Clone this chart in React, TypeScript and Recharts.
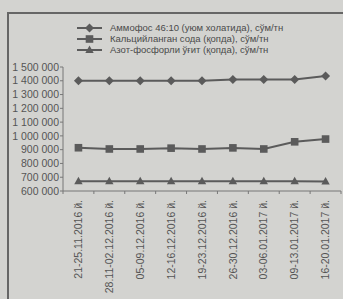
import React from 'react';
import { LineChart, Line, XAxis, YAxis } from 'recharts';

// weekly price monitoring, сўм/тн
const weeks = [
  '21-25.11.2016 й.',
  '28.11-02.12.2016 й.',
  '05-09.12.2016 й.',
  '12-16.12.2016 й.',
  '19-23.12.2016 й.',
  '26-30.12.2016 й.',
  '03-06.01.2017 й.',
  '09-13.01.2017 й.',
  '16-20.01.2017 й.',
];
const ammofos = [1400000, 1400000, 1400000, 1400000, 1400000, 1410000, 1410000, 1410000, 1435000];
const soda = [914000, 905000, 905000, 911000, 905000, 913000, 905000, 957000, 977000];
const azot = [670000, 670000, 670000, 670000, 670000, 670000, 670000, 670000, 669000];
const yTicks = [600000, 700000, 800000, 900000, 1000000, 1100000, 1200000, 1300000, 1400000, 1500000];

const names = [
  'Аммофос 46:10 (уюм холатида), сўм/тн',
  'Кальцийланган сода (қопда), сўм/тн',
  'Азот-фосфорли ўғит (қопда), сўм/тн',
];

const data = weeks.map((w, i) => ({ week: w, a: ammofos[i], s: soda[i], z: azot[i] }));

const INK = '#5b5b5b';
const BG = '#d3d3d0';
const FONT = 'Liberation Sans, Arial, sans-serif';

const fmt = (v: number) => String(v).replace(/\B(?=(\d{3})+(?!\d))/g, ' ');

const marker = (kind: string, cx: number, cy: number, key?: any) => {
  if (kind === 'diamond')
    return <path key={key} d={`M${cx},${cy - 4.5}L${cx + 4.5},${cy}L${cx},${cy + 4.5}L${cx - 4.5},${cy}Z`} fill={INK} />;
  if (kind === 'square')
    return <rect key={key} x={cx - 3.8} y={cy - 3.8} width={7.6} height={7.6} fill={INK} />;
  return <path key={key} d={`M${cx},${cy - 4.5}L${cx + 4.2},${cy + 3}L${cx - 4.2},${cy + 3}Z`} fill={INK} />;
};

const kinds = ['diamond', 'square', 'triangle'];

const LegendBox = () => (
  <div style={{ position: 'absolute', left: 0, top: 23, fontFamily: FONT, fontSize: 9.5, color: '#4a4a4a' }}>
    {names.map((n, i) => (
      <div key={n} style={{ display: 'flex', alignItems: 'center', height: 10.8, lineHeight: '10.8px', paddingLeft: 77 }}>
        <svg width={25} height={10} style={{ marginRight: 8, flex: 'none' }}>
          <line x1={0} y1={5} x2={25} y2={5} stroke={INK} strokeWidth={2} />
          {marker(kinds[i], 12.5, 5)}
        </svg>
        <span style={{ whiteSpace: 'nowrap' }}>{n}</span>
      </div>
    ))}
  </div>
);

const BAND = 278 / 9;

const WeekTick = (props: any) => {
  const { x, y, payload, index } = props;
  const h = BAND / 2;
  return (
    <g>
      <line x1={x - h} y1={y} x2={x - h} y2={y + 3} stroke="#777" />
      {index === weeks.length - 1 && <line x1={x + h} y1={y} x2={x + h} y2={y + 3} stroke="#777" />}
      <text
        x={x}
        y={y + 9}
        dy="0.35em"
        transform={`rotate(-90, ${x}, ${y + 9})`}
        textAnchor="end"
        fontSize={10.5}
        fill="#555"
        fontFamily={FONT}
      >
        {payload.value}
      </text>
    </g>
  );
};

const ValueTick = (props: any) => {
  const { x, y, payload } = props;
  return (
    <text x={x} y={y} dy="0.35em" textAnchor="end" fontSize={10.5} fill="#555" fontFamily={FONT}>
      {fmt(payload.value)}
    </text>
  );
};

export default function App() {
  return (
    <div style={{ position: 'fixed', left: 0, top: 0, width: 343, height: 299, background: BG, overflow: 'hidden' }}>
      <div
        style={{
          position: 'absolute',
          left: 7,
          top: 12,
          width: 350,
          height: 300,
          borderLeft: '2px solid #666',
          borderTop: '2px solid #666',
        }}
      />
      <LegendBox />
      <div style={{ position: 'absolute', left: 0, top: 0 }}>
        <LineChart width={343} height={299} data={data} margin={{ top: 67, right: 2, bottom: 0, left: 0 }}>
          <XAxis
            dataKey="week"
            scale="band"
            interval={0}
            height={108}
            tick={<WeekTick />}
            tickLine={false}
            tickSize={0}
            tickMargin={0}
            axisLine={{ stroke: '#777' }}
          />
          <YAxis
            width={63}
            domain={[600000, 1500000]}
            ticks={yTicks}
            tickSize={3}
            tickMargin={1}
            tickLine={{ stroke: '#777' }}
            axisLine={{ stroke: '#777' }}
            tick={<ValueTick />}
            interval={0}
          />
          {(['a', 's', 'z'] as const).map((k, i) => (
            <Line
              key={k}
              dataKey={k}
              name={names[i]}
              stroke={INK}
              strokeWidth={2}
              isAnimationActive={false}
              dot={(p: any) => marker(kinds[i], p.cx, p.cy, `${k}-${p.index}`)}
              activeDot={false}
            />
          ))}
        </LineChart>
      </div>
    </div>
  );
}
